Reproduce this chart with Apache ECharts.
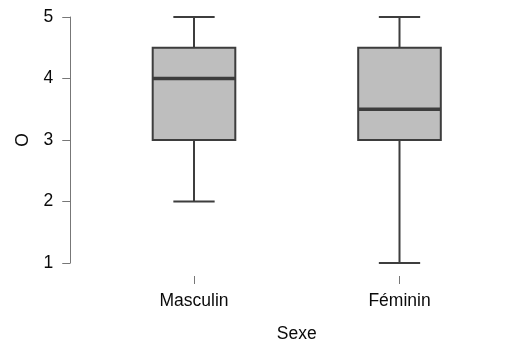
<!DOCTYPE html>
<html>
<head>
<meta charset="utf-8">
<style>
  html, body { margin: 0; padding: 0; background: #ffffff; }
  #chart { width: 516px; height: 344px; }
</style>
<script src="https://cdn.jsdelivr.net/npm/echarts@6/dist/echarts.min.js"></script>
</head>
<body>
<div id="chart"></div>
<script>
// Groups along the horizontal axis
const categories = ['Masculin', 'Féminin'];
// Five-number summaries per group: [lower whisker, Q1, median, Q3, upper whisker]
const masculinStats = [2, 3, 4, 4.5, 5];
const femininStats = [1, 3, 3.5, 4.5, 5];
// Vertical axis ticks
const yTicks = [1, 2, 3, 4, 5];

const groupStats = [masculinStats, femininStats];
const boxData = groupStats.map((s, i) => [i].concat(s));

const FONT = 'Liberation Sans, Arial, sans-serif';
const LINE = '#3d3d3d';
const FILL = '#bebebe';
const TEXT = '#0a0a0a';

function renderBox(params, api) {
  const xi = api.value(0);
  const band = api.size([1, 0])[0];
  const boxW = band * 0.402;
  const capW = boxW / 2;
  const cx = api.coord([xi, api.value(3)])[0];
  const yMin = api.coord([xi, api.value(1)])[1];
  const yQ1 = api.coord([xi, api.value(2)])[1];
  const yMed = api.coord([xi, api.value(3)])[1];
  const yQ3 = api.coord([xi, api.value(4)])[1];
  const yMax = api.coord([xi, api.value(5)])[1];
  const line = { stroke: LINE, lineWidth: 2, fill: null };
  return {
    type: 'group',
    children: [
      { type: 'line', shape: { x1: cx, y1: yQ1, x2: cx, y2: yMin }, style: line },
      { type: 'line', shape: { x1: cx, y1: yQ3, x2: cx, y2: yMax }, style: line },
      { type: 'line', shape: { x1: cx - capW / 2, y1: yMin, x2: cx + capW / 2, y2: yMin }, style: line },
      { type: 'line', shape: { x1: cx - capW / 2, y1: yMax, x2: cx + capW / 2, y2: yMax }, style: line },
      { type: 'rect', shape: { x: cx - boxW / 2, y: yQ3, width: boxW, height: yQ1 - yQ3 },
        style: { fill: FILL, stroke: LINE, lineWidth: 2 } },
      { type: 'line', shape: { x1: cx - boxW / 2, y1: yMed, x2: cx + boxW / 2, y2: yMed },
        style: { stroke: LINE, lineWidth: 3.5 } }
    ]
  };
}

const chart = echarts.init(document.getElementById('chart'), null, { renderer: 'canvas' });
chart.setOption({
  animation: false,
  backgroundColor: '#ffffff',
  grid: { left: 91.25, right: 13.75, top: 17, bottom: 81, containLabel: false, outerBoundsMode: 'none' },
  xAxis: {
    type: 'category',
    data: categories,
    offset: 13,
    axisLine: { show: false },
    axisTick: { show: true, alignWithLabel: true, length: 8, lineStyle: { color: '#777777', width: 1 } },
    axisLabel: { margin: 16.5, color: TEXT, fontSize: 17.5, fontFamily: FONT },
    splitLine: { show: false },
    name: 'Sexe',
    nameLocation: 'middle',
    nameGap: 49,
    nameTextStyle: { color: TEXT, fontSize: 17.5, fontFamily: FONT }
  },
  yAxis: {
    type: 'value',
    min: yTicks[0],
    max: yTicks[yTicks.length - 1],
    interval: 1,
    offset: 21,
    axisLine: { show: true, lineStyle: { color: '#777777', width: 1 } },
    axisTick: { show: true, length: 8, lineStyle: { color: '#777777', width: 1 } },
    axisLabel: { margin: 17, color: TEXT, fontSize: 17.5, fontFamily: FONT },
    splitLine: { show: false },
    name: 'O',
    nameLocation: 'middle',
    nameRotate: 90,
    nameGap: 38,
    nameTextStyle: { color: TEXT, fontSize: 17.5, fontFamily: FONT }
  },
  series: [{
    type: 'custom',
    renderItem: renderBox,
    encode: { x: 0, y: [1, 2, 3, 4, 5] },
    data: boxData,
    clip: false
  }]
});
</script>
</body>
</html>
